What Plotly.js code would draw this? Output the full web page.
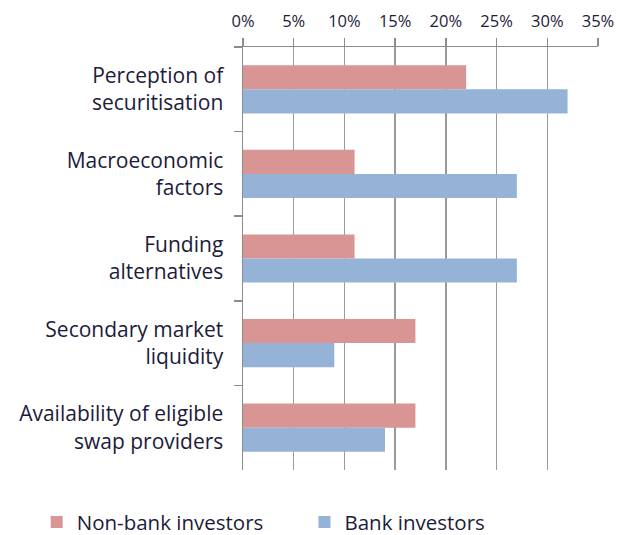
<!DOCTYPE html>
<html>
<head>
<meta charset="utf-8">
<script src="https://cdn.plot.ly/plotly-3.0.1.min.js"></script>
<style>html,body{margin:0;padding:0;background:#fff;}#chart{width:633px;height:535px;}</style>
</head>
<body>
<div id="chart"></div>
<script>
const categories = [
  "Perception of<br>securitisation",
  "Macroeconomic<br>factors",
  "Funding<br>alternatives",
  "Secondary market<br>liquidity",
  "Availability of eligible<br>swap providers"
];
const nonBank = [22, 11, 11, 17, 17];
const bank = [32, 27, 27, 9, 14];
const xTicks = [0, 5, 10, 15, 20, 25, 30, 35];

const traces = [
  {type: 'bar', orientation: 'h', name: 'Non-bank investors', y: categories, x: nonBank,
   marker: {color: '#D99594'}, legend: 'legend'},
  {type: 'bar', orientation: 'h', name: 'Bank investors', y: categories, x: bank,
   marker: {color: '#95B3D7'}, legend: 'legend2'}
];

const txt = '#1c1c3a';
const legendBase = {orientation: 'h', xref: 'container', yref: 'container', xanchor: 'left',
                    y: 0.024, yanchor: 'middle', font: {size: 20.5, color: txt}, itemwidth: 30,
                    bgcolor: 'rgba(0,0,0,0)'};
const layout = {
  width: 633, height: 535,
  margin: {l: 243, r: 35, t: 47, b: 65, autoexpand: false},
  paper_bgcolor: '#fff', plot_bgcolor: '#fff',
  font: {family: 'Open Sans, sans-serif', color: txt},
  barmode: 'group', bargap: 0.43, bargroupgap: 0,
  showlegend: true,
  legend: Object.assign({}, legendBase, {x: 0.058}),
  legend2: Object.assign({}, legendBase, {x: 0.481}),
  xaxis: {
    side: 'top', range: [0, 35], tickvals: xTicks, ticktext: xTicks.map(v => v + '%'),
    showgrid: true, gridcolor: '#9a9a9a', gridwidth: 1.5,
    showline: true, linecolor: '#8c8c8c', linewidth: 1.5,
    ticks: 'outside', ticklen: 8, tickcolor: '#8c8c8c', tickwidth: 1.5,
    tickfont: {size: 16.5, color: txt}, zeroline: false, fixedrange: true, ticklabelstandoff: 4
  },
  yaxis: {
    type: 'category', autorange: 'reversed', tickson: 'boundaries',
    showline: true, linecolor: '#8c8c8c', linewidth: 1.5,
    ticks: 'outside', ticklen: 8, tickcolor: '#8c8c8c', tickwidth: 1.5,
    showgrid: false, tickfont: {size: 21, color: txt}, ticklabelstandoff: 14,
    fixedrange: true
  }
};

Plotly.newPlot('chart', traces, layout, {displayModeBar: false, staticPlot: true});
</script>
</body>
</html>
